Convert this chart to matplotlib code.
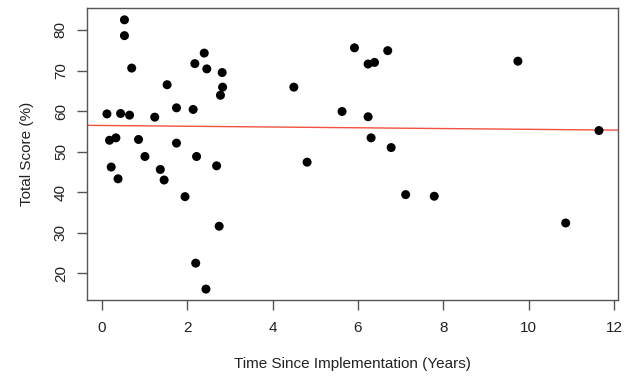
import numpy as np
import matplotlib.pyplot as plt

plt.rcParams['font.family'] = ['Liberation Sans', 'DejaVu Sans']

# time since implementation (years) and total score (%)
years = [0.12, 0.18, 0.33, 0.22, 0.38, 0.44, 0.53, 0.53, 0.65, 0.70,
         0.86, 1.01, 1.24, 1.37, 1.46, 1.53, 1.75, 1.75, 1.95, 2.14,
         2.18, 2.22, 2.20, 2.40, 2.46, 2.44, 2.69, 2.75, 2.82, 2.83,
         2.78, 4.50, 4.81, 5.63, 5.92, 6.24, 6.39, 6.70, 6.24, 6.31,
         6.78, 7.12, 7.79, 9.75, 10.87, 11.65]
score = [59.3, 52.8, 53.4, 46.2, 43.3, 59.4, 82.5, 78.6, 59.0, 70.6,
         53.0, 48.8, 58.5, 45.6, 43.0, 66.5, 60.8, 52.1, 38.9, 60.4,
         71.7, 48.8, 22.5, 74.3, 70.4, 16.1, 46.5, 31.6, 69.5, 65.9,
         63.9, 65.9, 47.4, 59.9, 75.6, 71.6, 72.0, 74.9, 58.6, 53.4,
         51.0, 39.4, 39.0, 72.3, 32.4, 55.2]

# fitted line
fit_intercept = 56.45
fit_slope = -0.095

x_ticks = [0, 2, 4, 6, 8, 10, 12]
y_ticks = [20, 30, 40, 50, 60, 70, 80]

fig = plt.figure(figsize=(6.35, 3.76), dpi=100)
ax = fig.add_axes([0.1375, 0.202, 0.836, 0.776])

ax.scatter(years, score, s=42, color='black', edgecolors='none', zorder=3)

x0, x1 = -0.34, 12.1
ax.set_xlim(x0, x1)
ax.set_ylim(13.4, 85.35)
xs = np.array([x0, x1])
ax.plot(xs, fit_intercept + fit_slope * xs, color='#f2513f', lw=1.0, zorder=2)

ax.set_xticks(x_ticks)
ax.set_yticks(y_ticks)
ax.set_yticklabels([str(v) for v in y_ticks], rotation=90, va='center')
ax.tick_params(direction='out', length=7, width=1, color='#555555',
               labelsize=11, labelcolor='#222222')
ax.tick_params(axis='x', pad=8)
ax.tick_params(axis='y', pad=7)
for sp in ax.spines.values():
    sp.set_color('#555555')
    sp.set_linewidth(1.0)

ax.set_xlabel('Time Since Implementation (Years)', fontsize=11,
              color='#222222', labelpad=16)
ax.set_ylabel('Total Score (%)', fontsize=11, color='#222222', labelpad=14)

fig.savefig('out.png', dpi=100)
